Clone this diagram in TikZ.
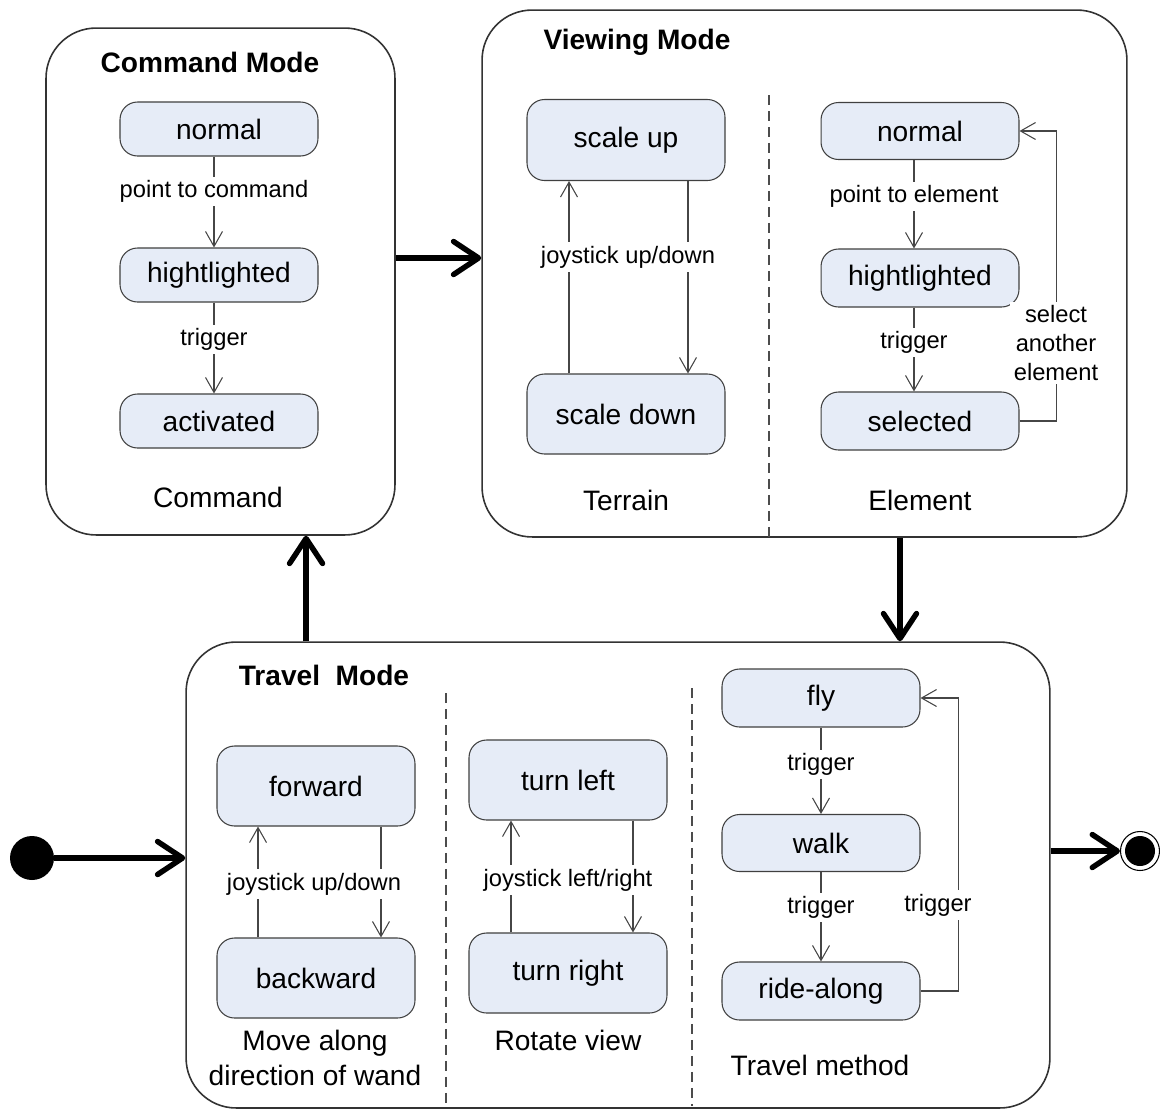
\documentclass[tikz,border=0pt]{standalone}
\usepackage{fontspec}
\setmainfont{Liberation Sans}
\usetikzlibrary{arrows.meta}
\definecolor{statefill}{RGB}{230,236,247}
\definecolor{lineg}{RGB}{64,64,64}
\definecolor{arrowg}{RGB}{70,70,70}
\begin{document}
\begin{tikzpicture}[x=0.02cm,y=-0.02cm,
  modebox/.style={draw=black!80,line width=0.9pt,rounded corners=1cm,inner sep=0pt,fill=white},
  state/.style={draw=lineg,fill=statefill,line width=0.6pt,rounded corners=0.35cm,minimum width=3.96cm,inner sep=0pt,font=\fontsize{16}{18}\selectfont},
  title/.style={font=\bfseries\fontsize{16}{18}\selectfont,inner sep=1pt},
  caption/.style={font=\fontsize{16}{20}\selectfont,inner sep=1pt,align=center},
  lbl/.style={font=\fontsize{13.5}{16.5}\selectfont,fill=white,inner sep=2pt,align=center},
  tarrow/.style={draw=arrowg,line width=0.6pt,-{Straight Barb[length=0.3cm,width=0.34cm]}},
  bigarrow/.style={line width=3.1pt,line join=round,-{Straight Barb[length=0.5cm,width=0.66cm,line cap=round,line join=round]}},
  divider/.style={draw=black!70,line width=0.7pt,dash pattern=on 0.2cm off 0.12cm}
]
\useasboundingbox (0,0) rectangle (1160,1110);

% ---------- mode boxes ----------
\node[modebox,minimum width=6.98cm,minimum height=10.14cm] (cmd) at (220.5,281.5) {};
\node[modebox,minimum width=12.9cm,minimum height=10.54cm] (view) at (804.5,273.5) {};
\node[modebox,minimum width=17.28cm,minimum height=9.32cm] (travel) at (618,875) {};

\node[title] (tcmd) at (210,62) {Command Mode};
\node[title] (tview) at (637,42) {Viewing Mode};
\node[title] (ttravel) at (324,675) {Travel\ \ Mode};

% dividers
\draw[divider] (769,95) -- (769,537);
\draw[divider] (446,693) -- (446,1106);
\draw[divider] (692,688) -- (692,1106);

% ---------- Command ----------
\node[state,minimum height=1.08cm] (cn) at (219,129) {normal};
\node[state,minimum height=1.08cm] (ch) at (219,275) {hightlighted};
\node[state,minimum height=1.08cm] (ca) at (219,421) {activated};
\node[caption] (capcmd) at (218,497) {Command};
\draw[tarrow] ([xshift=-0.1cm]cn.south) -- node[lbl,pos=0.38] (l1) {point to command} ([xshift=-0.1cm]ch.north);
\draw[tarrow] ([xshift=-0.1cm]ch.south) -- node[lbl,pos=0.41] (l2) {trigger} ([xshift=-0.1cm]ca.north);

% ---------- Terrain ----------
\node[state,minimum height=1.62cm] (su) at (626,140) {scale up};
\node[state,minimum height=1.6cm] (sd) at (626,414) {scale down};
\node[caption] (capter) at (626,500) {Terrain};
\draw[tarrow] ([xshift=-1.14cm]sd.north) -- ([xshift=-1.14cm]su.south);
\draw[tarrow] ([xshift=1.24cm]su.south) -- ([xshift=1.24cm]sd.north);
\node[lbl] (l3) at (628,257) {joystick up/down};

% ---------- Element ----------
\node[state,minimum height=1.14cm] (en) at (920,131) {normal};
\node[state,minimum height=1.16cm] (eh) at (920,278) {hightlighted};
\node[state,minimum height=1.16cm] (es) at (920,421) {selected};
\node[caption] (capel) at (920,500) {Element};
\draw[tarrow] ([xshift=-0.12cm]en.south) -- node[lbl,pos=0.41] (l4) {point to element} ([xshift=-0.12cm]eh.north);
\draw[tarrow] ([xshift=-0.12cm]eh.south) -- node[lbl,pos=0.42] (l5) {trigger} ([xshift=-0.12cm]es.north);
\draw[tarrow] (es.east) -- ++(37,0) |- (en.east);
\node[lbl] (l6) at (1056,343) {select\\another\\element};

% ---------- Move along ----------
\node[state,minimum height=1.6cm] (fw) at (316,786) {forward};
\node[state,minimum height=1.6cm] (bw) at (316,978) {backward};
\node[caption] (capmove) at (315,1058) {Move along\\direction of wand};
\draw[tarrow] ([xshift=-1.16cm]bw.north) -- ([xshift=-1.16cm]fw.south);
\draw[tarrow] ([xshift=1.3cm]fw.south) -- ([xshift=1.3cm]bw.north);
\node[lbl] (l7) at (314,884) {joystick up/down};

% ---------- Rotate view ----------
\node[state,minimum height=1.6cm] (tl) at (568,780) {turn left};
\node[state,minimum height=1.6cm] (tr) at (568,973) {turn right};
\node[caption] (caprot) at (568,1040) {Rotate view};
\draw[tarrow] ([xshift=-1.14cm]tr.north) -- ([xshift=-1.14cm]tl.south);
\draw[tarrow] ([xshift=1.3cm]tl.south) -- ([xshift=1.3cm]tr.north);
\node[lbl] (l8) at (568,880) {joystick left/right};

% ---------- Travel method ----------
\node[state,minimum height=1.16cm] (fly) at (821,698) {fly};
\node[state,minimum height=1.14cm] (walk) at (821,843) {walk};
\node[state,minimum height=1.16cm] (ride) at (821,991) {ride-along};
\node[caption] (captm) at (820,1065) {Travel method};
\draw[tarrow] (fly.south) -- node[lbl,pos=0.43] (l9) {trigger} (walk.north);
\draw[tarrow] (walk.south) -- node[lbl,pos=0.4] (l10) {trigger} (ride.north);
\draw[tarrow] (ride.east) -- ++(38,0) |- (fly.east);
\node[lbl] (l11) at (938,905) {trigger};

% ---------- initial / final ----------
\node[circle,fill=black,minimum size=0.88cm,inner sep=0pt] (init) at (32,858) {};
\node[circle,draw=black,line width=0.6pt,fill=white,minimum size=0.78cm,inner sep=0pt] (fin) at (1140,851) {};
\fill[black] (fin.center) circle (0.3cm);

% ---------- thick transitions ----------
\draw[bigarrow] (init) -- (init -| travel.west);
\draw[bigarrow] ([yshift=0.47cm]cmd.east) coordinate (a1) -- (a1 -| view.west);
\draw[bigarrow] ([xshift=1.91cm]view.south) coordinate (a2) -- (a2 |- travel.north);
\draw[bigarrow] ([xshift=-6.24cm]travel.north) coordinate (a3) -- (a3 |- cmd.south);
\draw[bigarrow] (fin -| travel.east) -- (fin);
\end{tikzpicture}
\end{document}
